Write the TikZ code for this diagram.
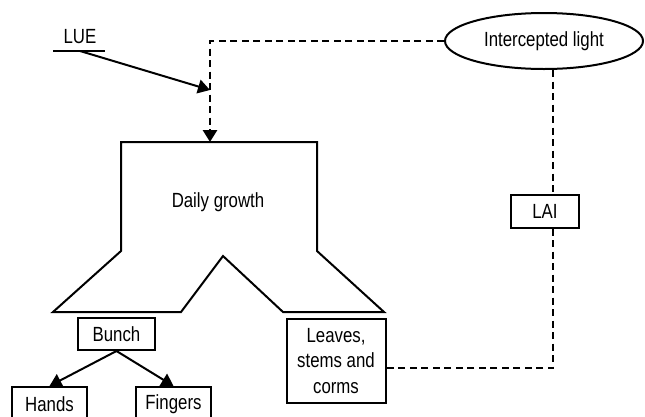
\documentclass[tikz,border=0pt]{standalone}
\usepackage{fontspec}
\setmainfont{Liberation Sans}[FakeStretch=0.82]
\usetikzlibrary{arrows.meta,shapes.geometric}
\begin{document}
\begin{tikzpicture}[x=1pt,y=-1pt,
  font=\fontsize{20.5}{25.5}\selectfont,
  box/.style={draw,line width=2pt,inner sep=0pt,align=center},
  solidline/.style={line width=2pt},
  dashline/.style={line width=2.8pt,dash pattern=on 7pt off 4.5pt},
  tip/.style={-{Triangle[length=12pt,width=14pt]}}]
\useasboundingbox (0,0) rectangle (645,416);
% Daily growth shape
\draw[solidline,line join=miter] (121,142) -- (317,142) -- (317,251) -- (384,312) -- (283,312)
  -- (223,256) -- (181,312) -- (53,312) -- (121,251) -- cycle;
\coordinate (top) at (210,142);
\node (dg) at (218,202) {Daily growth};
% ellipse
\node[draw,ellipse,line width=2pt,minimum width=198pt,minimum height=56pt,inner sep=0pt] (il) at (544,41) {Intercepted light};
\node[box,minimum width=68pt,minimum height=33pt] (lai) at (545,211) {LAI};
\node[box,minimum width=99pt,minimum height=84pt] (lv) at (336,361) {Leaves,\\stems and\\corms};
\node[box,minimum width=77pt,minimum height=32pt] (bunch) at (116.5,334) {Bunch};
\node[box,minimum width=75pt,minimum height=34pt] (hands) at (49.5,404) {Hands};
\node[box,minimum width=75pt,minimum height=34pt] (fingers) at (173.5,404) {Fingers};
% LUE
\node (lue) at (80,37) {LUE};
\coordinate (ul) at (53,51);
\coordinate (ur) at (105,51);
\coordinate (ustart) at (80,51);
\draw[solidline] (ul) -- (ur);
\coordinate (corner) at (210,41);
\coordinate (luetip) at (210,90);
% dashed connectors
\draw[dashline,tip] (il.west) -- (corner) -- (top);
\draw[solidline,tip] (ustart) -- (luetip);
\coordinate (lc) at (553,368);
\draw[dashline] (il.south -| lc) -- (lai.north -| lc);
\draw[dashline] (lai.south -| lc) -- (lc) -- (lc -| lv.east);
% Bunch arrows
\draw[solidline,tip] (bunch.south) -- (hands.north);
\draw[solidline,tip] (bunch.south) -- (fingers.north);
\end{tikzpicture}
\end{document}
